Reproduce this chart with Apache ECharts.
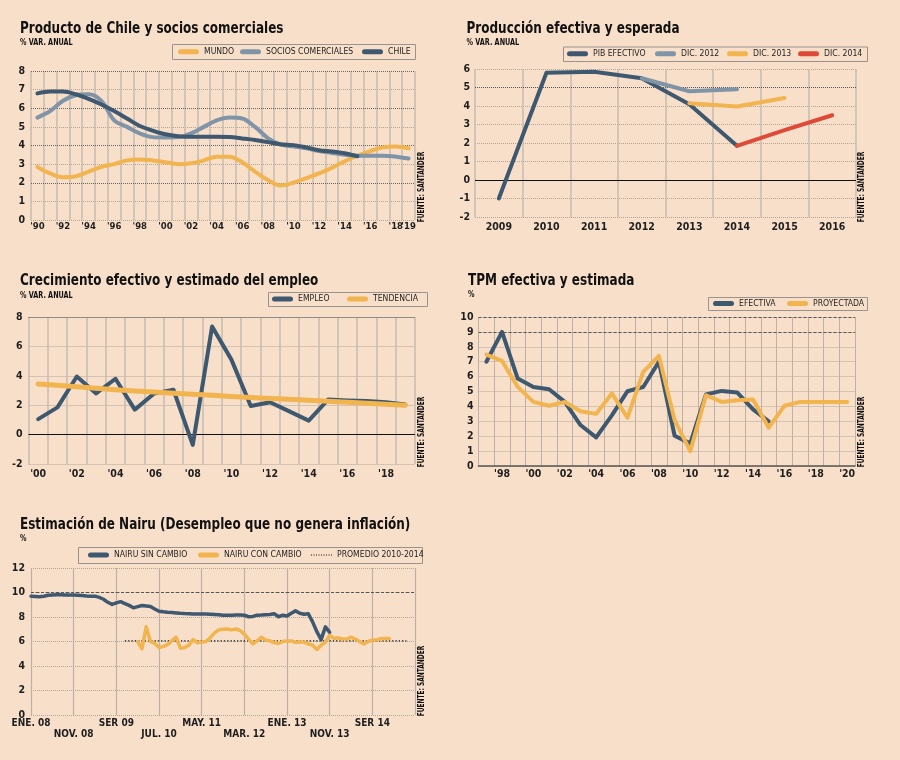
<!DOCTYPE html>
<html><head><meta charset="utf-8">
<script src="https://cdn.jsdelivr.net/npm/echarts@6/dist/echarts.min.js"></script>
<style>html,body{margin:0;padding:0;background:#f8dfca;}#c{width:900px;height:760px;}</style>
</head><body><div id="c"></div>
<script>
// ---------- DATA ----------
// Panel 1: Producto de Chile y socios comerciales (% var. anual)
const p1Years = ["'90","'91","'92","'93","'94","'95","'96","'97","'98","'99","'00","'01","'02","'03","'04","'05","'06","'07","'08","'09","'10","'11","'12","'13","'14","'15","'16","'17","'18","'19"];
const p1Mundo = [2.85,2.5,2.3,2.35,2.6,2.85,3.0,3.2,3.25,3.2,3.1,3.0,3.05,3.2,3.4,3.4,3.1,2.6,2.15,1.85,2.0,2.25,2.5,2.8,3.15,3.45,3.7,3.9,3.95,3.85];
const p1Socios = [5.5,5.85,6.4,6.7,6.75,6.4,5.35,5.0,4.65,4.45,4.43,4.45,4.65,5.0,5.35,5.5,5.45,5.0,4.4,4.05,3.95,3.85,3.7,3.6,3.5,3.45,3.45,3.45,3.4,3.3];
const p1Chile = [6.8,6.9,6.9,6.75,6.5,6.2,5.85,5.45,5.05,4.8,4.6,4.5,4.47,4.47,4.47,4.45,4.38,4.3,4.18,4.07,4.02,3.9,3.75,3.68,3.58,3.42,null,null,null,null];

// Panel 2: Producción efectiva y esperada
const p2Years = ['2009','2010','2011','2012','2013','2014','2015','2016'];
const p2Pib = [-1.0,5.8,5.85,5.5,4.1,1.85,null,null];
const p2Dic12 = [null,null,null,5.5,4.8,4.9,null,null];
const p2Dic13 = [null,null,null,null,4.15,3.97,4.43,null];
const p2Dic14 = [null,null,null,null,null,1.85,2.7,3.5];

// Panel 3: Crecimiento efectivo y estimado del empleo
const p3Years = ["'00","'01","'02","'03","'04","'05","'06","'07","'08","'09","'10","'11","'12","'13","'14","'15","'16","'17","'18","'19"];
const p3Empleo = [1.05,1.85,3.95,2.8,3.8,1.7,2.8,3.05,-0.7,7.35,5.1,1.95,2.2,1.58,0.95,2.38,2.32,2.28,2.2,2.05];
const p3Tendencia = [3.45,3.35,3.25,3.15,3.05,2.97,2.9,2.82,2.74,2.67,2.6,2.53,2.46,2.4,2.33,2.27,2.2,2.14,2.07,2.0];

// Panel 4: TPM efectiva y estimada
const p4Years = ["'97","'98","'99","'00","'01","'02","'03","'04","'05","'06","'07","'08","'09","'10","'11","'12","'13","'14","'15","'16","'17","'18","'19","'20"];
const p4Efectiva = [7.0,9.0,5.87,5.3,5.15,4.3,2.75,1.92,3.4,5.02,5.3,7.0,2.03,1.52,4.8,5.04,4.93,3.8,3.0,null,null,null,null,null];
const p4Proyectada = [7.48,7.05,5.31,4.3,4.04,4.3,3.68,3.5,4.87,3.24,6.32,7.39,3.08,1.0,4.75,4.3,4.42,4.46,2.57,4.04,4.3,4.3,4.3,4.3];

// Panel 5: Estimación de Nairu (monthly, from ENE. 08)
const MESES = ['ENE.','FEB.','MAR.','ABR.','MAY.','JUN.','JUL.','AGO.','SER','OCT.','NOV.','DIC.'];
const p5Months = [];
for (let y = 2008; y <= 2015; y++) for (let m = 0; m < 12; m++) if (p5Months.length < 91) p5Months.push(MESES[m] + ' ' + String(y).slice(2));
const p5SinCambioStart = 'ENE. 08';
const p5SinCambio = [9.7,9.68,9.65,9.7,9.78,9.8,9.82,9.82,9.8,9.8,9.8,9.78,9.75,9.72,9.7,9.7,9.6,9.45,9.2,9.03,
  9.15,9.25,9.1,8.95,8.75,8.85,8.94,8.9,8.85,8.65,8.47,8.42,8.38,8.36,8.33,8.3,8.28,8.27,8.25,8.25,
  8.25,8.24,8.22,8.2,8.18,8.15,8.14,8.15,8.16,8.16,8.15,8.02,8.05,8.15,8.16,8.18,8.2,8.27,8.02,8.15,
  8.08,8.3,8.5,8.3,8.22,8.27,7.6,6.8,6.15,7.2,6.75];
const p5ConCambioStart = 'FEB. 10';
const p5ConCambio = [6.0,5.4,7.2,6.0,5.85,5.5,5.6,5.75,6.05,6.35,
  5.45,5.5,5.7,6.15,5.9,5.95,6.0,6.3,6.7,6.95,
  7.0,7.02,6.95,7.02,6.9,6.6,6.2,5.8,6.05,6.35,
  6.12,6.05,5.9,5.85,6.0,6.05,6.05,5.92,5.95,5.95,
  5.8,5.7,5.35,5.7,5.95,6.5,6.25,6.3,6.2,6.2,
  6.35,6.2,6.0,5.8,6.0,6.12,6.15,6.22,6.25,6.25];
const p5Promedio = 6.05;
const p5PromedioFrom = 'NOV. 09';
const p5PromedioTo = 'MAY. 15';

// ---------- STYLE ----------
const FONT = "'Liberation Sans Narrow','DejaVu Sans Condensed','Arial Narrow',sans-serif";
const BG = '#f8dfca';
const C_DARK = '#3e5870', C_GREY = '#7f94a7', C_ORANGE = '#f1b44f', C_RED = '#df4937';
const GRID_V = '#c6bbb0', GRID_H = '#b3a596';
const LBL = '#1e1e1e';

function pad(values, start, total) {
  const a = new Array(total).fill(null);
  values.forEach((v, i) => { a[start + i] = v; });
  return a;
}
function line(name, data, color, width, gi, extra) {
  return Object.assign({
    type: 'line', name, data, xAxisIndex: gi, yAxisIndex: gi, symbol: 'none', showSymbol: false,
    lineStyle: { color, width, cap: 'round', join: 'round' }, itemStyle: { color },
    emphasis: { disabled: true }, silent: true, animation: false, connectNulls: false
  }, extra || {});
}
function hLines(list) {
  return { silent: true, symbol: ['none', 'none'], label: { show: false }, animation: false, z: 1,
    emphasis: { disabled: true },
    data: list.map(l => ({ yAxis: l.v, lineStyle: { color: l.c, type: l.t, width: l.w } })) };
}
function xLabel(interval, extra) {
  return Object.assign({ interval, color: LBL, fontFamily: FONT, fontSize: 10.5, fontWeight: 'bold', margin: 3, hideOverlap: false }, extra || {});
}
function xCat(gi, data, labelCfg, extra, vw, vc) {
  return Object.assign({
    gridIndex: gi, type: 'category', data, boundaryGap: true,
    axisLine: { show: false }, axisTick: { show: false },
    axisLabel: labelCfg,
    splitLine: { show: true, interval: 0, lineStyle: { color: vc || GRID_V, width: vw || 1.5 } }
  }, extra || {});
}
function yVal(gi, min, max, interval, margin) {
  return {
    gridIndex: gi, type: 'value', min, max, interval,
    axisLine: { show: false }, axisTick: { show: false },
    axisLabel: { color: LBL, fontFamily: FONT, fontSize: 10.5, fontWeight: 'bold', margin: margin, hideOverlap: false },
    splitLine: { show: true, lineStyle: { color: GRID_H, type: 'dotted', width: 1 } }
  };
}
const CAPSULE = 'path://M2.5 0h16a2.5 2.5 0 0 1 0 5h-16a2.5 2.5 0 0 1 0-5z';
const DOTS = 'path://M0 0h1v1H0zM2.5 0h1v1h-1zM5 0h1v1H5zM7.5 0h1v1h-1zM10 0h1v1h-1zM12.5 0h1v1h-1zM15 0h1v1h-1zM17.5 0h1v1h-1zM20 0h1v1h-1z';
function leg(name, left, cy, icon, color, h) {
  const ih = h || 5;
  return {
    left, top: cy - 5, orient: 'horizontal', padding: 0, selectedMode: false,
    itemWidth: 21, itemHeight: ih, itemGap: 0,
    data: [{ name, icon: icon || CAPSULE, itemStyle: { color } }],
    textStyle: { fontFamily: FONT, fontSize: 8.6, color: '#1e1e1e', lineHeight: 10, padding: [0, 0, 0, 0] }
  };
}
function txt(x, y, text, size, weight, sx) {
  return { type: 'text', x, y, scaleX: sx || 1, silent: true,
    style: { text, fontFamily: FONT, fontSize: size, fontWeight: weight, fill: '#111',
      textAlign: 'left', textVerticalAlign: 'middle', align: 'left', verticalAlign: 'middle' } };
}
function box(x, y, w, h) {
  return { type: 'rect', silent: true, shape: { x: x + 0.5, y: y + 0.5, width: w, height: h },
    style: { fill: 'none', stroke: '#9a928b', lineWidth: 1 } };
}
function fuente(x, y) {
  return { type: 'text', x, y, rotation: Math.PI / 2, scaleX: 0.82, silent: true,
    style: { text: 'FUENTE: SANTANDER', fontFamily: FONT, fontSize: 8, fontWeight: 'bold', fill: '#111',
      textAlign: 'center', textVerticalAlign: 'middle', align: 'center', verticalAlign: 'middle' } };
}

const p5Total = p5Months.length;
const p5Sin = pad(p5SinCambio, p5Months.indexOf(p5SinCambioStart), p5Total);
const p5Con = pad(p5ConCambio, p5Months.indexOf(p5ConCambioStart), p5Total);
const TS = 0.81;
const p1Last = p1Years.length - 1;

const option = {
  backgroundColor: BG,
  animation: false,
  grid: [
    { left: 31, top: 71, width: 384, height: 149, outerBoundsMode: 'none' },
    { left: 475, top: 69, width: 381, height: 148, outerBoundsMode: 'none' },
    { left: 28.5, top: 317, width: 386.5, height: 147, outerBoundsMode: 'none' },
    { left: 478.5, top: 317, width: 376.5, height: 149, outerBoundsMode: 'none' },
    { left: 31, top: 568, width: 384, height: 147, outerBoundsMode: 'none' }
  ],
  xAxis: [
    xCat(0, p1Years, xLabel(0, { margin: 2, fontSize: 9.5,
      formatter: (v, i) => (i % 2 === 0 || i === p1Last ? v : '') })),
    xCat(1, p2Years, xLabel(0, { margin: 5 })),
    xCat(2, p3Years, xLabel((i) => i % 2 === 0, { margin: 5 })),
    xCat(3, p4Years, xLabel((i) => i % 2 === 1, { margin: 3 }), { axisLine: { show: true, lineStyle: { color: '#555', width: 1.5 } } }, 1, '#bcb1a7'),
    xCat(4, p5Months, xLabel((i) => i % 10 === 0 && i < 90, { fontSize: 10, margin: 3, lineHeight: 11,
        formatter: (v, i) => (i % 20 === 10 ? '\n' + v : v) }), {
      boundaryGap: false,
      splitLine: { show: true, interval: 9, lineStyle: { color: '#bcb1a7', width: 1.2 } }
    })
  ],
  yAxis: [
    yVal(0, 0, 8, 1, 6),
    yVal(1, -2, 6, 1, 5),
    yVal(2, -2, 8, 2, 6),
    yVal(3, 0, 10, 1, 5),
    yVal(4, 0, 12, 2, 6)
  ],
  legend: [
    leg('MUNDO', 178, 51.7, null, C_ORANGE),
    leg('SOCIOS COMERCIALES', 240, 51.7, null, C_GREY),
    leg('CHILE', 362, 51.7, null, C_DARK),
    leg('PIB EFECTIVO', 567, 53.7, null, C_DARK),
    leg('DIC. 2012', 655, 53.7, null, C_GREY),
    leg('DIC. 2013', 727, 53.7, null, C_ORANGE),
    leg('DIC. 2014', 798, 53.7, null, C_RED),
    leg('EMPLEO', 272, 299, null, C_DARK),
    leg('TENDENCIA', 347, 299, null, C_ORANGE),
    leg('EFECTIVA', 713, 303.4, null, C_DARK),
    leg('PROYECTADA', 787, 303.4, null, C_ORANGE),
    leg('NAIRU SIN CAMBIO', 88, 555, null, C_DARK),
    leg('NAIRU CON CAMBIO', 198, 555, null, C_ORANGE),
    leg('PROMEDIO 2010-2014', 311, 555, DOTS, '#111', 1.3)
  ],
  series: [
    // panel 1
    line('MUNDO', p1Mundo, C_ORANGE, 4, 0, { smooth: 0.35, markLine: hLines([2, 4, 6, 8].map(v => ({ v, c: '#6b6560', t: 'dotted', w: 1 }))) }),
    line('SOCIOS COMERCIALES', p1Socios, C_GREY, 4, 0, { smooth: 0.35 }),
    line('CHILE', p1Chile, C_DARK, 4, 0, { smooth: 0.35 }),
    // panel 2
    line('PIB EFECTIVO', p2Pib, C_DARK, 4, 1, { markLine: hLines([{ v: 5, c: '#555', t: 'dotted', w: 1 }, { v: 0, c: '#111', t: 'solid', w: 1 }]) }),
    line('DIC. 2012', p2Dic12, C_GREY, 4, 1),
    line('DIC. 2013', p2Dic13, C_ORANGE, 4, 1),
    line('DIC. 2014', p2Dic14, C_RED, 4, 1),
    // panel 3
    line('EMPLEO', p3Empleo, C_DARK, 4, 2, { markLine: hLines([{ v: 8, c: '#555', t: 'dotted', w: 1 }, { v: 0, c: '#111', t: 'solid', w: 1 }]) }),
    line('TENDENCIA', p3Tendencia, C_ORANGE, 5, 2),
    // panel 4
    line('EFECTIVA', p4Efectiva, C_DARK, 4, 3, { markLine: hLines([{ v: 9, c: '#555', t: [3, 2], w: 1 }, { v: 10, c: '#555', t: [3, 2], w: 1 }]) }),
    line('PROYECTADA', p4Proyectada, C_ORANGE, 4, 3),
    // panel 5
    line('NAIRU SIN CAMBIO', p5Sin, C_DARK, 3.5, 4, { markLine: hLines([{ v: 10, c: '#555', t: [3, 2], w: 1 }]) }),
    line('NAIRU CON CAMBIO', p5Con, C_ORANGE, 3.5, 4),
    line('PROMEDIO 2010-2014', [[p5PromedioFrom, p5Promedio], [p5PromedioTo, p5Promedio]], '#111', 1.3, 4,
      { lineStyle: { color: '#111', width: 1.3, type: [1.3, 2] }, z: 1 })
  ],
  graphic: [
    txt(20, 29, 'Producto de Chile y socios comerciales', 16.5, 'bold', TS),
    txt(20, 42.5, '% VAR. ANUAL', 8, 'bold', 0.9),
    txt(466.5, 29, 'Producción efectiva y esperada', 16.5, 'bold', TS),
    txt(466.5, 42.5, '% VAR. ANUAL', 8, 'bold', 0.9),
    txt(20, 281, 'Crecimiento efectivo y estimado del empleo', 16.5, 'bold', TS),
    txt(20, 296, '% VAR. ANUAL', 8, 'bold', 0.9),
    txt(468, 281, 'TPM efectiva y estimada', 16.5, 'bold', TS),
    txt(468, 295, '%', 8, 'bold', 0.9),
    txt(20, 525, 'Estimación de Nairu (Desempleo que no genera inflación)', 16.5, 'bold', TS),
    txt(20, 538.5, '%', 8, 'bold', 0.9),
    box(172, 44, 243, 15),
    box(563, 46.5, 304, 14.5),
    box(268, 292, 159, 14),
    box(708, 297, 159, 13),
    box(78, 547, 344, 16),
    fuente(422, 187),
    fuente(862, 187),
    fuente(422, 432),
    fuente(862, 432),
    fuente(422, 681)
  ]
};
const chart = echarts.init(document.getElementById('c'), null, { renderer: 'canvas' });
chart.setOption(option);
</script></body></html>
